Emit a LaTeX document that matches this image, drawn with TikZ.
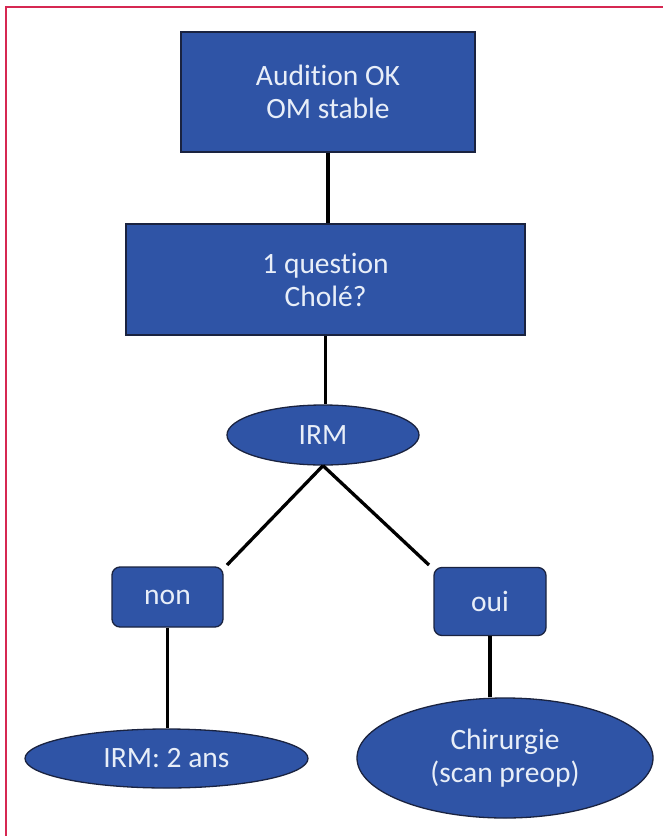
\documentclass[tikz,border=0pt]{standalone}
\usepackage{fontspec}
\setmainfont[Ligatures={NoCommon}]{Carlito}
\usetikzlibrary{shapes.geometric}
\definecolor{boxblue}{RGB}{47,84,166}
\definecolor{boxline}{RGB}{26,35,64}
\definecolor{txt}{RGB}{232,238,248}
\definecolor{frame}{RGB}{214,40,82}
\tikzset{
  base/.style={draw=boxline, line width=1.3pt, fill=boxblue, text=txt,
    font=\fontsize{29.5}{33}\selectfont, align=center, inner sep=0pt},
  rectbox/.style={base, rectangle},
  roundbox/.style={base, rectangle, rounded corners=8pt},
  ellbox/.style={base, ellipse},
  conn/.style={line width=3.3pt, black},
}
\begin{document}
\begin{tikzpicture}[x=1pt, y=-1pt]
\useasboundingbox (0,0) rectangle (663,836);
\fill[white] (0,0) rectangle (663,836);
\draw[frame, line width=1.6pt] (6,836) -- (6,7) -- (663,7);

\node[rectbox, minimum width=294pt, minimum height=120pt] (b1) at (328,92) {Audition OK\\OM stable};
\node[rectbox, minimum width=399pt, minimum height=111pt] (b2) at (325.5,279.5) {1 question\\Cholé?};
\node[ellbox, minimum width=192pt, minimum height=60pt] (e1) at (323,435) {IRM};
\node[roundbox, minimum width=111pt, minimum height=60pt] (non) at (167.5,597) {non};
\node[roundbox, minimum width=112pt, minimum height=68pt] (oui) at (490,601.5) {oui};
\node[ellbox, minimum width=283pt, minimum height=59pt] (e2) at (166.5,758.5) {IRM: 2 ans};
\node[ellbox, minimum width=296pt, minimum height=120pt] (e3) at (505,758) {Chirurgie\\(scan preop)};

\coordinate (cL) at (227,565);
\coordinate (cR) at (429,565);

\draw[conn] (b1.south) -- (b1.south |- b2.north);
\draw[conn] (b2.south) -- (b2.south |- e1.north);
\draw[conn] (e1.south) -- (cL);
\draw[conn] (e1.south) -- (cR);
\draw[conn] (non.south) -- (non.south |- e2.north);
\draw[conn] (oui.south) -- (oui.south |- e3.north);
\end{tikzpicture}
\end{document}
